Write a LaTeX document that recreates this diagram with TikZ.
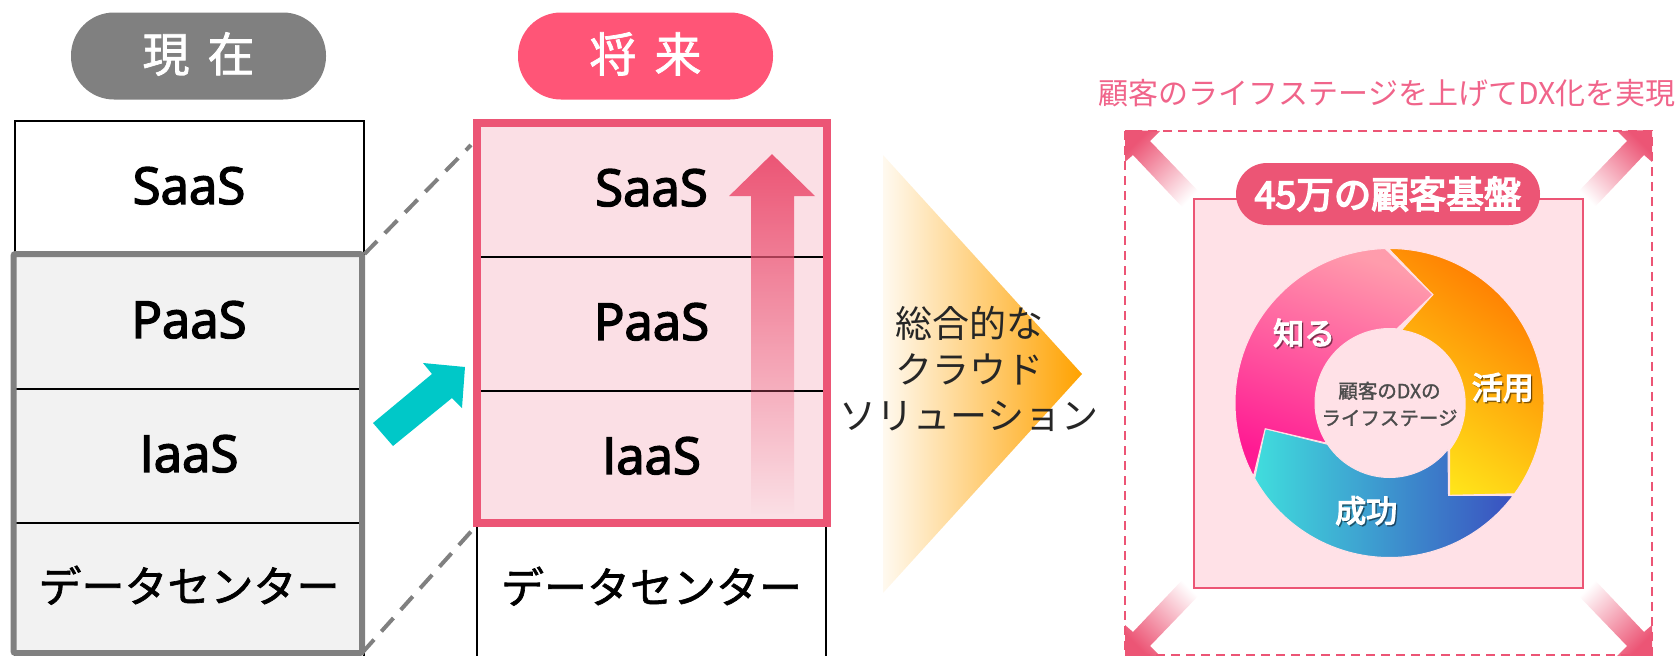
\documentclass[tikz,border=0pt]{standalone}
\usepackage{fontspec}
\usetikzlibrary{fadings}
\setmainfont{Noto Sans CJK JP}
\newfontfamily\jpmedium[FakeBold=1.5]{Noto Sans CJK JP}
\newfontfamily\jpheavy[FakeBold=4]{Noto Sans CJK JP}
\newfontfamily\latinfont[FakeBold=3]{Open Sans}
\newcommand{\pxfont}[2]{\fontsize{#1}{#2}\selectfont}
\definecolor{graybar}{HTML}{808080}
\definecolor{graylight}{HTML}{F2F2F2}
\definecolor{rosebar}{HTML}{FF5577}
\definecolor{rose}{HTML}{EC5575}
\definecolor{roselight}{HTML}{FBDFE5}
\definecolor{rosepale}{HTML}{FFE1E7}
\definecolor{rosetext}{HTML}{F0648A}
\definecolor{tealarrow}{HTML}{00C8C8}
\definecolor{sunset}{HTML}{FFA200}
\definecolor{cyanring}{HTML}{40DDDD}
\definecolor{bluering}{HTML}{3A50C0}
\definecolor{orangering}{HTML}{FF7800}
\definecolor{yellowring}{HTML}{FFE41A}
\definecolor{pinkring}{HTML}{FF9CAC}
\definecolor{magentaring}{HTML}{FF1A93}
\begin{document}
\begin{tikzpicture}[x=1pt,y=1pt,
    titlepill/.style = {rounded corners=43pt, minimum width=255pt, minimum height=87pt, text=white, text depth=8pt, font=\jpmedium\pxfont{47}{50}},
    row/.style = {draw, line width=2pt, minimum width=349pt, minimum height=134pt, text depth=5pt, font=\latinfont\pxfont{51}{56}},
    jprow/.style = {row, text depth=12pt, font=\jpmedium\pxfont{43}{46}},
    link/.style = {draw=graybar, dash pattern=on 18pt off 11pt, line width=4pt},
    ringlabel/.style = {text=white, font=\jpheavy\pxfont{31}{34}},
    ringshadow/.style = {text=black, opacity=0.35, font=\jpheavy\pxfont{31}{34}}]
    \useasboundingbox (0,0) rectangle (1679,-656);

    \node[titlepill, fill=graybar] (nowTitle) at (198.5,-56) {現\hspace{18pt}在\hspace{13pt}};
    \node[titlepill, fill=rosebar] (nextTitle) at (645.5,-56) {将\hspace{18pt}来\hspace{15pt}};

    \node[row] (saasA) at (189,-188) {SaaS};
    \node[row, fill=graylight] (paasA) at (189,-322) {PaaS};
    \node[row, fill=graylight] (iaasA) at (189,-456) {IaaS};
    \node[jprow, fill=graylight] (dcA) at (189,-590) {データセンター};
    \coordinate (linkBottomA) at (362,-653);
    \draw[draw=graybar, line width=6pt, rounded corners=2pt] (paasA.north west) rectangle (linkBottomA);

    \coordinate (linkTop) at (471,-145);
    \draw[link] (paasA.north east) -- (linkTop);

    \node[row, fill=roselight] (saasB) at (651.5,-190) {SaaS};
    \node[row, fill=roselight] (paasB) at (651.5,-324) {PaaS};
    \node[row, fill=roselight] (iaasB) at (651.5,-458) {IaaS};
    \node[jprow] (dcB) at (651.5,-591) {データセンター};
    \coordinate (frameA) at (477,-123);
    \coordinate (frameB) at (826.5,-522.5);
    \draw[link] (linkBottomA) -- (iaasB.south west);

    \fill[rose, path fading=south] (772,-154) -- (815,-196) -- (794,-196) -- (794,-514)
        -- (751,-514) -- (751,-196) -- (729,-196) -- cycle;
    \draw[draw=rose, line width=8pt] (frameA) rectangle (frameB);

    \fill[tealarrow] (465,-367) -- (462,-408) -- (452,-398) -- (393,-446) -- (373,-423)
        -- (432,-374) -- (423,-363) -- cycle;

    \shade[left color=sunset!6!white, right color=sunset] (883,-155) -- (1082,-374) -- (883,-593) -- cycle;
    \node[align=center, text=black!85, font=\pxfont{37}{46}] (cloudText) at (969,-369) {総合的な\\クラウド\\ソリューション};

    \node[text=rosetext, font=\pxfont{30}{32}] (stageText) at (1387,-93) {顧客のライフステージを上げてDX化を実現};

    \foreach \cx/\cy/\sx/\sy/\ang in {1125/-130/1/1/45, 1652/-130/-1/1/-45, 1125/-657/1/-1/135, 1652/-657/-1/-1/-135}
        \shade[shift={(\cx,\cy)}, xscale=\sx, yscale=\sy, top color=rose, bottom color=white, shading angle=\ang]
            (0,0) -- (35,-1) -- (25,-11) -- (77,-65) -- (60,-80) -- (8,-25) -- (0,-32) -- cycle;
    \draw[draw=rose, dash pattern=on 9pt off 6pt, line width=2.5pt] (1125,-131) rectangle (1652,-655);

    \node[draw=rose, fill=rosepale, line width=2.5pt, minimum size=389pt] (baseBox) at (1388.5,-393.5) {};
    \node[fill=rose, text=white, rounded corners=31pt, minimum width=304pt, minimum height=62pt, font=\jpheavy\pxfont{37.5}{40}] (baseTitle) at (1388,-194) {45万の顧客基盤};

    \begin{scope}[shift={(1389.5,-403)}]
        \shade[draw=rosepale, line width=1pt, left color=cyanring, right color=bluering]
            (-36.8:154.5) arc[start angle=-36.8, end angle=-150.8, radius=154.5] -- (-124.3,-25.7)
            -- (-146.4:74.5) arc[start angle=-146.4, end angle=-38.3, radius=74.5] -- (59,-92.3) -- cycle;
        \shade[draw=rosepale, line width=1pt, top color=orangering, bottom color=yellowring, shading angle=-35]
            (90.4:154.5) arc[start angle=90.4, end angle=-36, radius=154.5] -- (60,-92.3) -- (60,-46.7)
            arc[start angle=-37.9, end angle=81.8, radius=74.5] -- (43.3,108.3) -- cycle;
        \shade[draw=rosepale, line width=1pt, top color=pinkring, bottom color=magentaring, shading angle=-20]
            (91.6:154.5) arc[start angle=91.6, end angle=208.3, radius=154.5] -- (-124.3,-25.7)
            -- (212.6:74.5) arc[start angle=212.6, end angle=84.3, radius=74.5] -- (43.3,108.3) -- cycle;

        \node[ringshadow] (knowShadow) at (-83.8,68.5) {知る};
        \node[ringlabel] (knowText) at (-85.3,70) {知る};
        \node[ringshadow] (useShadow) at (114.8,14.2) {活用};
        \node[ringlabel] (useText) at (113.3,15.7) {活用};
        \node[ringshadow] (winShadow) at (-21.8,-109.2) {成功};
        \node[ringlabel] (winText) at (-23.3,-107.7) {成功};
        \node[align=center, text=black!70, font=\jpmedium\pxfont{19.5}{27}] (ringText) at (0,-1) {顧客のDXの\\ライフステージ};
    \end{scope}
\end{tikzpicture}
\end{document}
